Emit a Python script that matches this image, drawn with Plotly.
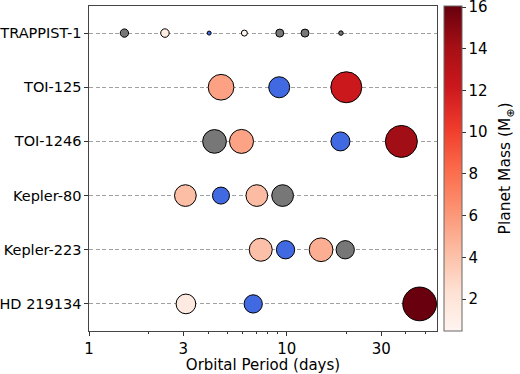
import plotly.graph_objects as go

systems = ["TRAPPIST-1", "TOI-125", "TOI-1246", "Kepler-80", "Kepler-223", "HD 219134"]

# planet records: system, orbital period (days), kind, mass (Earth masses), marker size value
planet_system = [
    "TRAPPIST-1", "TRAPPIST-1", "TRAPPIST-1", "TRAPPIST-1", "TRAPPIST-1", "TRAPPIST-1", "TRAPPIST-1",
    "TOI-125", "TOI-125", "TOI-125",
    "TOI-1246", "TOI-1246", "TOI-1246", "TOI-1246",
    "Kepler-80", "Kepler-80", "Kepler-80", "Kepler-80",
    "Kepler-223", "Kepler-223", "Kepler-223", "Kepler-223",
    "HD 219134", "HD 219134", "HD 219134",
]
planet_period = [
    1.51, 2.42, 4.05, 6.10, 9.21, 12.35, 18.77,
    4.65, 9.15, 19.98,
    4.31, 5.90, 18.66, 37.92,
    3.07, 4.645, 7.05, 9.52,
    7.38, 9.85, 14.89, 19.73,
    3.09, 6.76, 46.9,
]
planet_kind = [
    "grey", "mass", "blue", "mass", "grey", "grey", "grey",
    "mass", "blue", "mass",
    "grey", "mass", "blue", "mass",
    "mass", "blue", "mass", "grey",
    "mass", "blue", "mass", "grey",
    "mass", "blue", "mass",
]
planet_mass = [
    None, 1.3, None, 0.7, None, None, None,
    5.6, None, 12.2,
    None, 5.5, None, 14.2,
    4.2, None, 4.3, None,
    4.1, None, 5.0, None,
    1.5, None, 16.0,
]
planet_size = [
    9.3, 9.5, 5.0, 7.0, 9.0, 9.0, 5.5,
    26.7, 22.0, 32.0,
    24.7, 25.0, 20.0, 33.0,
    22.7, 18.0, 22.7, 22.7,
    24.0, 19.3, 24.7, 19.3,
    20.7, 19.3, 34.7,
]

mass_min, mass_max = 0.47, 16.05
cbar_ticks = [2, 4, 6, 8, 10, 12, 14, 16]
x_ticks = [1, 3, 10, 30]
x_minor = [2, 4, 5, 6, 7, 8, 9, 20, 40, 50]

FONT = "DejaVu Sans"
fig = go.Figure()

def subset(kind):
    return [i for i, k in enumerate(planet_kind) if k == kind]

for kind in ["grey", "blue", "mass"]:
    idx = subset(kind)
    xs = [planet_period[i] for i in idx]
    ys = [planet_system[i] for i in idx]
    sz = [planet_size[i] - 1 for i in idx]
    if kind == "mass":
        marker = dict(
            size=sz, color=[planet_mass[i] for i in idx], colorscale="Reds",
            cmin=mass_min, cmax=mass_max, opacity=1,
            line=dict(color="black", width=1),
            colorbar=dict(
                tickvals=cbar_ticks, ticks="outside", ticklen=3.5, tickwidth=1,
                tickcolor="#333", tickfont=dict(family=FONT, size=15, color="black"),
                ticklabeloverflow="allow",
                thickness=18, len=1, lenmode="fraction", y=0.5, yanchor="middle",
                x=1.02, xanchor="left", xpad=0, ypad=0,
                outlinewidth=1, outlinecolor="#666",
            ),
            showscale=True,
        )
    elif kind == "blue":
        marker = dict(size=sz, color="royalblue", opacity=1, line=dict(color="black", width=1))
    else:
        marker = dict(size=sz, color="#777777", opacity=1, line=dict(color="black", width=1))
    fig.add_trace(go.Scatter(x=xs, y=ys, mode="markers", marker=marker, opacity=1,
                             showlegend=False, hoverinfo="x+y"))

fig.add_annotation(
    text="Planet Mass (M<sub>⊕</sub>)", textangle=-90,
    xref="paper", yref="paper", x=1.198, y=0.5, xanchor="center", yanchor="middle",
    showarrow=False, font=dict(family=FONT, size=15.5, color="black"),
)

fig.update_layout(
    width=520, height=374,
    margin=dict(l=89, r=83, t=6, b=43, autoexpand=False),
    plot_bgcolor="white", paper_bgcolor="white",
    font=dict(family=FONT, size=14, color="black"),
)
fig.update_xaxes(
    type="log", range=[0, 1.759], automargin=False,
    tickvals=x_ticks, ticktext=[str(v) for v in x_ticks],
    ticks="outside", ticklen=3.5, tickwidth=1, tickcolor="#333",
    minor=dict(tickvals=x_minor, ticks="outside", ticklen=2, tickwidth=0.8, tickcolor="#333", showgrid=False),
    showgrid=False, zeroline=False,
    showline=True, linecolor="#444", linewidth=1.2, mirror=True,
    tickfont=dict(family=FONT, size=15),
    title=dict(text="Orbital Period (days)", font=dict(family=FONT, size=15), standoff=4),
)
fig.update_yaxes(
    type="category", categoryorder="array", categoryarray=systems,
    range=[5.5, -0.5], automargin=False,
    ticks="outside", ticklen=3.5, tickwidth=1, tickcolor="#333",
    showgrid=True, gridcolor="#a0a0a0", gridwidth=1, griddash="4px,2.5px",
    showline=True, linecolor="#444", linewidth=1.2, mirror=True,
    tickfont=dict(family=FONT, size=14.5),
    zeroline=False,
)

fig.write_html(
    "out.html",
    config={"displayModeBar": False},
    post_script="document.body.style.margin='0';document.body.style.overflow='hidden';",
)
